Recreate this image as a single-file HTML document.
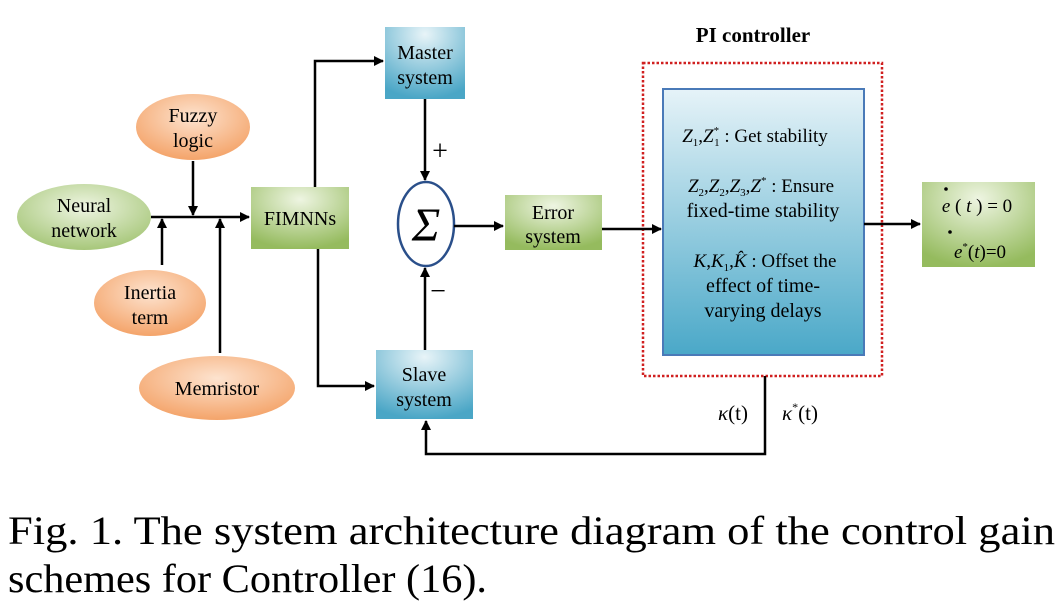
<!DOCTYPE html>
<html><head><meta charset="utf-8"><style>
html,body{margin:0;padding:0;background:#fff;}
svg{display:block;font-family:"Liberation Serif",serif;}
</style></head><body>
<svg width="1063" height="609" viewBox="0 0 1063 609" xmlns="http://www.w3.org/2000/svg">
<defs>
<radialGradient id="org" cx="50%" cy="35%" r="65%"><stop offset="0" stop-color="#fde3cf"/><stop offset="1" stop-color="#f4a46a"/></radialGradient>
<radialGradient id="grn" cx="50%" cy="35%" r="65%"><stop offset="0" stop-color="#eef5e2"/><stop offset="1" stop-color="#a7c77a"/></radialGradient>
<radialGradient id="gbox" cx="50%" cy="20%" r="80%"><stop offset="0" stop-color="#eef5e2"/><stop offset="1" stop-color="#95bb5e"/></radialGradient>
<radialGradient id="bbox" cx="50%" cy="10%" r="90%"><stop offset="0" stop-color="#e8f4f8"/><stop offset="1" stop-color="#4aa6c6"/></radialGradient>
<linearGradient id="big" x1="0" y1="0" x2="0" y2="1"><stop offset="0" stop-color="#e6f3f8"/><stop offset="1" stop-color="#4aa8c8"/></linearGradient>
<marker id="ar" markerWidth="10" markerHeight="10" refX="9" refY="5" orient="auto" markerUnits="userSpaceOnUse"><path d="M0,0 L10,5 L0,10 z" fill="#000"/></marker>
</defs>
<g font-size="20" text-anchor="middle">
<ellipse cx="193" cy="127" rx="57" ry="33" fill="url(#org)"/>
<text x="193" y="122">Fuzzy</text><text x="193" y="147">logic</text>
<ellipse cx="84" cy="217" rx="67" ry="33" fill="url(#grn)"/>
<text x="84" y="212">Neural</text><text x="84" y="237">network</text>
<ellipse cx="150" cy="303" rx="56" ry="33" fill="url(#org)"/>
<text x="150" y="299">Inertia</text><text x="150" y="324">term</text>
<ellipse cx="217" cy="388" rx="78" ry="32" fill="url(#org)"/>
<text x="217" y="395">Memristor</text>
<rect x="251" y="187" width="98" height="62" fill="url(#gbox)"/>
<text x="300" y="225">FIMNNs</text>
<rect x="385" y="27" width="80" height="72" fill="url(#bbox)"/>
<text x="425" y="59">Master</text><text x="425" y="84">system</text>
<rect x="376" y="350" width="97" height="69" fill="url(#bbox)"/>
<text x="424" y="381">Slave</text><text x="424" y="406">system</text>
<rect x="505" y="195" width="97" height="55" fill="url(#gbox)"/>
<text x="553" y="219">Error</text><text x="553" y="243">system</text>
<ellipse cx="426" cy="224" rx="28" ry="42" fill="#fff" stroke="#2a4f8a" stroke-width="2.5"/>
<text x="426" y="241" font-size="48" font-style="italic">Σ</text>
<text x="440" y="160" font-size="28">+</text>
<text x="438" y="300" font-size="28">−</text>
<text x="753" y="42" font-size="21" font-weight="bold">PI  controller</text>
<rect x="643" y="63" width="239" height="313" fill="none" stroke="#d02020" stroke-width="2.5" stroke-dasharray="2.5,2"/>
<rect x="663" y="89" width="201" height="266" fill="url(#big)" stroke="#4a7ab8" stroke-width="2"/>
<text x="755" y="142" font-size="19"><tspan font-style="italic">Z</tspan><tspan font-size="11" dy="4">1</tspan><tspan dy="-4">,</tspan><tspan font-style="italic">Z</tspan><tspan font-size="11" dy="-8">*</tspan><tspan font-size="11" dx="-5" dy="12">1</tspan><tspan dy="-4"> : Get stability</tspan></text>
<text x="761" y="192" font-size="19"><tspan font-style="italic">Z</tspan><tspan font-size="11" dy="4">2</tspan><tspan dy="-4">,</tspan><tspan font-style="italic">Z</tspan><tspan font-size="11" dy="4">2</tspan><tspan dy="-4">,</tspan><tspan font-style="italic">Z</tspan><tspan font-size="11" dy="4">3</tspan><tspan dy="-4">,</tspan><tspan font-style="italic">Z</tspan><tspan font-size="11" dy="-8">*</tspan><tspan dy="8"> : Ensure</tspan></text>
<text x="763" y="217" font-size="20">fixed-time stability</text>
<text x="765" y="267" font-size="19"><tspan font-style="italic">K</tspan>,<tspan font-style="italic">K</tspan><tspan font-size="11" dy="4">1</tspan><tspan dy="-4">,</tspan><tspan font-style="italic">K̂</tspan> : Offset the</text>
<text x="763" y="292" font-size="20">effect of time-</text>
<text x="763" y="317" font-size="20">varying delays</text>
<rect x="922" y="182" width="113" height="85" fill="url(#gbox)"/>
<text x="977" y="212" font-size="19"><tspan font-style="italic">e</tspan> ( <tspan font-style="italic">t</tspan> ) = 0</text>
<circle cx="946" cy="189" r="1.8" fill="#000"/>
<text x="980" y="258" font-size="19"><tspan font-style="italic">e</tspan><tspan font-size="11" dy="-8">*</tspan><tspan dy="8">(</tspan><tspan font-style="italic">t</tspan>)=0</text>
<circle cx="950" cy="232" r="1.8" fill="#000"/>
<text x="733" y="420" font-size="21"><tspan font-style="italic">κ</tspan>(t)</text>
<text x="800" y="420" font-size="21"><tspan font-style="italic">κ</tspan><tspan font-size="12" dy="-9">*</tspan><tspan dy="9">(t)</tspan></text>
</g>
<g stroke="#000" stroke-width="2.5" fill="none">
<line x1="151" y1="217" x2="249" y2="217" marker-end="url(#ar)"/>
<line x1="193" y1="161" x2="193" y2="215" marker-end="url(#ar)"/>
<line x1="162" y1="265" x2="162" y2="219" marker-end="url(#ar)"/>
<line x1="220" y1="353" x2="220" y2="219" marker-end="url(#ar)"/>
<polyline points="315,187 315,61 383,61" marker-end="url(#ar)"/>
<polyline points="318,249 318,386 374,386" marker-end="url(#ar)"/>
<line x1="425" y1="99" x2="425" y2="180" marker-end="url(#ar)"/>
<line x1="425" y1="350" x2="425" y2="268" marker-end="url(#ar)"/>
<line x1="454" y1="226" x2="503" y2="226" marker-end="url(#ar)"/>
<line x1="602" y1="229" x2="661" y2="229" marker-end="url(#ar)"/>
<line x1="864" y1="224" x2="920" y2="224" marker-end="url(#ar)"/>
<polyline points="765,376 765,454 426,454 426,421" marker-end="url(#ar)"/>
</g>
<text x="8" y="544" font-size="40" textLength="1047" lengthAdjust="spacingAndGlyphs">Fig. 1. The system architecture diagram of the control gain</text>
<text x="8" y="592" font-size="40" textLength="479" lengthAdjust="spacingAndGlyphs">schemes for Controller (16).</text>
</svg>
</body></html>
